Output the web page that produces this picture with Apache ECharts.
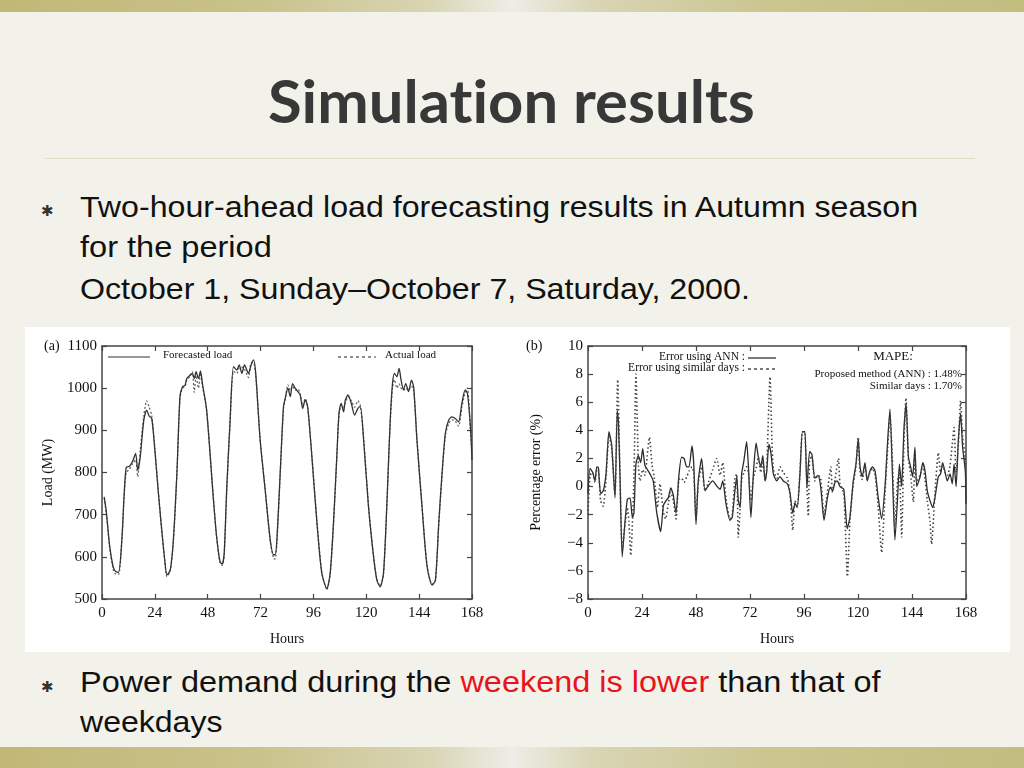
<!DOCTYPE html>
<html>
<head>
<meta charset="utf-8">
<script src="https://cdn.jsdelivr.net/npm/echarts@6/dist/echarts.min.js"></script>
<style>
  html,body{margin:0;padding:0;}
  body{width:1024px;height:768px;position:relative;overflow:hidden;background:#f2f1ea;}
  .band{position:absolute;left:0;width:1024px;background:linear-gradient(90deg,#c1b877 0%,#c9c28a 25%,#d9d5b4 42%,#eeede6 50%,#d9d5b4 58%,#cbc58f 75%,#c4bd80 100%);}
  .t{position:absolute;white-space:nowrap;transform-origin:0 50%;font-variant-ligatures:none;font-feature-settings:"liga" 0;}
  .body{font-family:"Liberation Sans",Arial,sans-serif;color:#111;font-size:30px;}
  .bul{position:absolute;font-family:"DejaVu Sans";font-size:15px;color:#333;}
</style>
</head>
<body>
<div class="band" style="top:0;height:12px;"></div>
<div class="band" style="top:747px;height:21px;"></div>
<div id="title" class="t" style="font-family:Lato,'Open Sans',sans-serif;font-weight:700;font-size:60px;color:#383838;left:268px;" data-w="487" data-cy="100">Simulation results</div>
<div style="position:absolute;left:45px;top:158px;width:930px;height:1px;background:#e2dec6;"></div>

<div class="bul" style="left:41px;top:202px;">✱</div>
<div class="t body" style="left:80px;" data-w="838" data-cy="207">Two-hour-ahead load forecasting results in Autumn season</div>
<div class="t body" style="left:80px;" data-w="192" data-cy="247">for the period</div>
<div class="t body" style="left:80px;" data-w="670" data-cy="289">October 1, Sunday–October 7, Saturday, 2000.</div>

<div class="bul" style="left:41px;top:678px;">✱</div>
<div class="t body" style="left:80px;" data-w="800" data-cy="682">Power demand during the <span style="color:#e8141c">weekend is lower</span> than that of</div>
<div class="t body" style="left:80px;" data-w="142" data-cy="722">weekdays</div>

<div id="chart" style="position:absolute;left:25px;top:327px;width:985px;height:325px;background:#ffffff;"></div>

<script>
// ---------- data: (a) load forecasting ----------
const loadHours = [1,2,3.5,5,6,7.5,9,10,11,12.5,14,15.3,16.2,17.3,19,20.3,21.4,22.6,24,25.5,27,28.5,29.5,31,32.4,34,35.4,36.5,37.7,38.5,40,41,41.9,42.7,43.8,44.7,45.6,47.5,50.5,52,53.6,54.6,55.5,56.6,58.1,59.7,61.2,62.3,63.5,64.7,66.5,67.7,68.8,69.8,71.8,74.1,76.4,77.9,78.6,79.4,80.9,82.4,83.2,84.4,85.5,86.5,87.7,88.9,90,91.1,92.3,93.4,95.3,97.6,99.8,102.1,103.6,105.1,106.6,107.6,108.6,109.7,110.5,111.7,113.2,114.7,116.2,117.3,118.8,121,123.3,124.8,126.3,127.8,129.3,130.8,131.9,132.8,133.9,134.9,135.8,136.9,137.9,139.2,140.5,141.5,143,145.3,147.6,149.9,151.4,152.9,154.4,155.9,157.4,158.9,160.4,161.9,163.4,164.9,165.9,167.2,168];
const forecastLoad = [742,705,625,578,566,563,640,742,812,815,828,845,806,834,925,948,934,928,853,758,671,592,557,569,640,798,980,1003,1007,1023,1031,1035,1023,1039,1023,1041,1011,948,742,650,588,583,610,758,917,1051,1043,1055,1035,1055,1035,1055,1067,1035,877,758,640,605,605,640,798,956,976,1000,980,1011,1000,992,984,952,972,956,837,680,561,525,561,680,837,940,964,944,972,984,964,936,952,956,877,719,600,545,529,561,719,917,1011,1035,1027,1047,1019,996,1011,992,1019,1003,877,719,577,533,545,680,798,893,924,932,928,920,964,996,988,917,830];
const actualLoad = [740,700,620,572,560,558,635,738,800,808,822,830,790,850,935,970,955,935,858,760,668,590,553,567,636,795,975,1000,1004,1020,1028,1040,990,1030,1000,1036,1005,950,745,648,585,580,606,752,912,1040,1035,1048,1050,1045,1025,1060,1060,1030,880,760,636,596,595,632,792,952,974,1008,995,1005,995,998,986,960,975,952,840,684,565,522,558,676,832,935,960,955,965,980,970,955,970,958,880,722,603,548,531,558,715,910,1000,1020,1000,1010,1000,995,1000,995,1005,998,880,722,580,535,543,676,792,888,915,925,922,910,955,990,1000,905,850];

// ---------- data: (b) percentage error ----------
const annHours = [0,0.9,2.1,3.1,3.9,4.6,5.6,6.8,8,9.3,10.5,12,13,13.5,14.2,15.2,16.4,17.5,18.7,19.7,20.4,21.3,22.4,23.4,24.3,25.3,26.8,27.9,29,30.5,32.3,33.5,34.7,35.7,36.8,37.9,39.1,40.4,41.6,42.7,43.9,44.9,46.2,47,48,49,50.5,52,53.5,55.4,57.2,58.7,59.9,61.3,63.1,64.1,65.3,66.1,66.8,67.6,68.3,69.3,70.5,71.3,72.4,73.5,74.7,75.7,76.8,77.7,78.7,79.4,80.4,81.3,82.4,83.9,85.3,86.8,88.6,89.8,91,92,93,94.2,95.3,96.4,97.3,98.5,99.5,100.8,102.2,103.4,104.9,106.4,107.6,108.7,109.8,110.8,112,113.7,115.2,116.4,117.9,119.1,120.1,120.9,121.9,123.1,124.1,125.3,126.5,127.6,129,130.5,132,133.2,134.2,135.4,136.4,137.6,138.4,139.4,140.4,141.4,142.4,143.4,144.3,145.3,146.1,147.6,148.8,149.8,150.8,152,153.2,154.2,155.7,156.7,157.6,158.6,159.7,160.9,161.9,162.7,163.6,164.6,165.6,166.5,167.7,168];
const annError = [-0.5,1.3,1.0,0.4,1.4,1.35,-0.5,-0.3,0.9,3.9,3.0,-0.8,5.4,4.7,0.9,-5.0,-2.6,-0.9,-0.8,-2.2,-1.9,1.6,2.2,1.7,2.7,1.5,1.1,0.8,0.4,-1.8,-3.2,-1.35,-1.0,-0.8,-0.1,-0.6,-1.9,0.8,2.1,2.0,1.4,1.4,2.9,1.6,-2.7,0.4,2.0,-0.3,0.05,0.4,0.05,-0.2,0.4,-1.2,-2.4,-2.2,-0.3,0.7,-1.0,-1.5,0.9,1.85,3.2,1.4,-2.2,0.9,3.1,2.1,1.4,2.2,0.4,1.0,3.0,2.4,0.9,0.4,0.7,0.4,0.2,-0.5,-1.9,-1.2,-1.5,0.9,3.9,3.9,-0.1,2.5,2.3,0.6,0.8,0,-2.4,-0.8,-0.05,-0.3,0.3,0.4,0,-0.2,-3.0,-2.2,0.4,1.6,3.4,1.4,0.7,1.7,0.4,1.1,1.4,1.1,-0.8,-2.3,0,3.3,5.5,0.4,-3.8,-0.8,1.6,0,4.0,5.9,2.1,1.4,0.7,2.8,0,0.7,1.7,1.1,-0.3,-1.0,-1.5,-0.8,0.7,0.9,1.7,1.1,0.4,0.9,0.2,1.6,0,3.3,5.2,2.8,1.1,-1.2];
const simHours = [0,0.9,2.1,3.1,3.9,4.6,5.6,6.8,8,9.3,10.5,12,13.2,14.2,15.2,16.4,17.5,18.2,19,20.4,21.3,22.4,23.1,24.3,25.3,26.3,27.3,28.5,29.5,30.8,32,33.5,34.5,35.7,36.8,37.9,39.1,40.4,41.6,42.7,43.9,44.9,46.2,47,48,49,50.5,52,53.5,55.4,57.2,58.7,59.9,61.3,63.1,64.1,65.3,66.1,66.8,67.6,68.3,69.3,70.5,71.3,72.4,73.5,74.7,75.7,76.8,77.7,78.7,79.4,80.9,81.8,82.4,83.9,85.3,86.8,88.6,89.8,91,92,93,94.2,95.3,96.4,97.9,98.5,99.5,100.8,102.2,103.4,104.9,106.4,107.9,108.7,109.8,111.3,112,113.7,115.3,116.4,117.9,119.1,120.1,120.9,121.9,123.1,124.1,125.3,126.5,127.6,129,130.5,132,133.2,134.2,135.4,136.4,137.6,138.4,139.4,140.4,141.3,142.4,143.4,144.6,145.3,146.1,147.6,148.8,149.8,150.8,152,152.7,154.2,155.7,156.7,157.6,158.6,159.7,160.9,161.9,162.7,163.6,164.6,165.6,166.5,167.7,168];
const simError = [-2.0,0.8,1.0,0.3,1.2,1.2,-1.0,-1.4,0.5,3.6,2.8,-0.6,7.6,1.0,-4.5,-2.8,-1.5,-2.5,-4.9,0.5,8.0,1.5,0.4,1.2,0.8,2.2,3.5,1.5,0.6,-1.5,0.2,-1.8,-2.3,-1.2,-0.4,-1.0,-2.3,0.5,0.6,0.3,0.7,1.1,1.4,1.0,-2.3,0.2,1.4,-0.3,0.3,1.2,2.0,0.8,1.7,-0.8,-2.3,-2.0,0.6,0.9,-3.6,-1.6,0.5,1.0,1.4,1.0,-1.0,0.6,1.3,2.1,1.0,1.8,0.4,1.2,7.8,3.0,1.2,0.6,1.4,1.0,0.6,-0.5,-3.1,-1.0,-1.4,1.0,3.9,3.8,-2.1,1.8,2.2,0.4,0.8,0.6,-2.0,-0.4,1.4,-0.4,0.5,2.0,0.2,-0.5,-6.4,-2.5,0.2,1.4,3.5,1.0,0.5,1.5,0.5,1.0,1.3,0.8,-1.5,-4.7,-0.5,2.8,5.0,1.5,-2.8,0.5,1.0,-3.6,3.0,6.3,2.0,0.8,-1.1,2.2,0.4,0.8,1.5,0.5,-1.0,-2.5,-4.1,-0.5,2.4,1.0,1.6,1.0,0.8,1.5,3.0,4.2,1.0,3.0,6.1,3.5,2.0,-1.2];

const loadTicks = {min:500, max:1100, interval:100};
const errTicks = {min:-8, max:10, interval:2};
const hourTicks = {min:0, max:168, interval:24};

// ---------- slide text fitting ----------
document.querySelectorAll('.t').forEach(el => {
  const w = el.scrollWidth, h = el.offsetHeight;
  const tw = +el.dataset.w, cy = +el.dataset.cy;
  el.style.top = (cy - h/2) + 'px';
  el.style.transform = 'scaleX(' + (tw / w) + ')';
});

// ---------- chart ----------
const serif = '"Liberation Serif","DejaVu Serif",serif';
const lineCol = '#444';
const plainFmt = v => String(v).replace('-', '\u2212');
function xAx(grid, pos, withLabel){
  return {gridIndex:grid, type:'value', position:pos, min:hourTicks.min, max:hourTicks.max, interval:hourTicks.interval,
    axisLine:{show:true, onZero:false, lineStyle:{color:lineCol, width:1.5}},
    axisTick:{show:true, inside:true, length:5, lineStyle:{color:lineCol, width:1.2}},
    axisLabel:{show:withLabel, fontFamily:serif, fontSize:15, color:'#111', margin:7, formatter:plainFmt},
    splitLine:{show:false},
    name: withLabel ? 'Hours' : '', nameLocation:'middle', nameGap:33,
    nameTextStyle:{fontFamily:serif, fontSize:14, color:'#111'}};
}
function yAx(grid, pos, withLabel, t, name, gap){
  return {gridIndex:grid, type:'value', position:pos, min:t.min, max:t.max, interval:t.interval,
    axisLine:{show:true, onZero:false, lineStyle:{color:lineCol, width:1.5}},
    axisTick:{show:true, inside:true, length:5, lineStyle:{color:lineCol, width:1.2}},
    axisLabel:{show:withLabel, fontFamily:serif, fontSize:15, color:'#111', margin:5, formatter:plainFmt},
    splitLine:{show:false},
    name: withLabel ? name : '', nameLocation:'middle', nameGap:gap, nameRotate:90,
    nameTextStyle:{fontFamily:serif, fontSize:14, color:'#111'}};
}
const pairs = (xs, ys) => xs.map((x,i) => [x, ys[i]]);

const chart = echarts.init(document.getElementById('chart'), null, {renderer:'canvas'});
chart.setOption({
  animation:false,
  backgroundColor:'#ffffff',
  grid:[{left:77, top:19, width:370, height:253},{left:563, top:19, width:378, height:253}],
  xAxis:[xAx(0,'bottom',true), xAx(0,'top',false), xAx(1,'bottom',true), xAx(1,'top',false)],
  yAxis:[yAx(0,'left',true,loadTicks,'Load (MW)',47), yAx(0,'right',false,loadTicks,'',0),
         yAx(1,'left',true,errTicks,'Percentage error (%)',45), yAx(1,'right',false,errTicks,'',0)],
  series:[
    {name:'Actual load', type:'line', xAxisIndex:0, yAxisIndex:0, data:pairs(loadHours, actualLoad), showSymbol:false, smooth:0.25,
      lineStyle:{color:'#666', width:1.3, type:[2,2]}, z:2},
    {name:'Forecasted load', type:'line', xAxisIndex:0, yAxisIndex:0, data:pairs(loadHours, forecastLoad), showSymbol:false, smooth:0.25,
      lineStyle:{color:'#333', width:1.3}, z:3},
    {name:'Error using ANN', type:'line', xAxisIndex:2, yAxisIndex:2, data:pairs(annHours, annError), showSymbol:false, smooth:0.2,
      lineStyle:{color:'#2b2b2b', width:1.3}, z:3},
    {name:'Error using similar days', type:'line', xAxisIndex:2, yAxisIndex:2, data:pairs(simHours, simError), showSymbol:false, smooth:0.2,
      lineStyle:{color:'#444', width:1.6, type:[1.5,2.5]}, z:4}
  ],
  graphic:[
    {type:'text', left:19, top:12, style:{text:'(a)', font:'14px '+serif, fill:'#111'}},
    {type:'text', left:501, top:12, style:{text:'(b)', font:'14px '+serif, fill:'#111'}},
    {type:'line', shape:{x1:83, y1:30, x2:125, y2:30}, style:{stroke:'#333', lineWidth:1.2}},
    {type:'text', left:138, top:23, style:{text:'Forecasted load', font:'11px '+serif, fill:'#111'}},
    {type:'line', shape:{x1:313, y1:30, x2:351, y2:30}, style:{stroke:'#444', lineWidth:1.2, lineDash:[3,3]}},
    {type:'text', left:360, top:23, style:{text:'Actual load', font:'11px '+serif, fill:'#111'}},
    {type:'text', x:720, y:30, style:{text:'Error using ANN :', font:'11.5px '+serif, fill:'#111', textAlign:'right', textVerticalAlign:'middle'}},
    {type:'text', x:720, y:41, style:{text:'Error using similar days :', font:'11.5px '+serif, fill:'#111', textAlign:'right', textVerticalAlign:'middle'}},
    {type:'line', shape:{x1:723, y1:31, x2:751, y2:31}, style:{stroke:'#222', lineWidth:1.2}},
    {type:'line', shape:{x1:723, y1:42, x2:751, y2:42}, style:{stroke:'#222', lineWidth:1.2, lineDash:[3,3]}},
    {type:'text', x:868, y:30, style:{text:'MAPE:', font:'13px '+serif, fill:'#111', textAlign:'center', textVerticalAlign:'middle'}},
    {type:'text', x:937, y:47, style:{text:'Proposed method (ANN) : 1.48%', font:'11px '+serif, fill:'#111', textAlign:'right', textVerticalAlign:'middle'}},
    {type:'text', x:937, y:59, style:{text:'Similar days : 1.70%', font:'11px '+serif, fill:'#111', textAlign:'right', textVerticalAlign:'middle'}}
  ]
});
</script>
</body>
</html>
